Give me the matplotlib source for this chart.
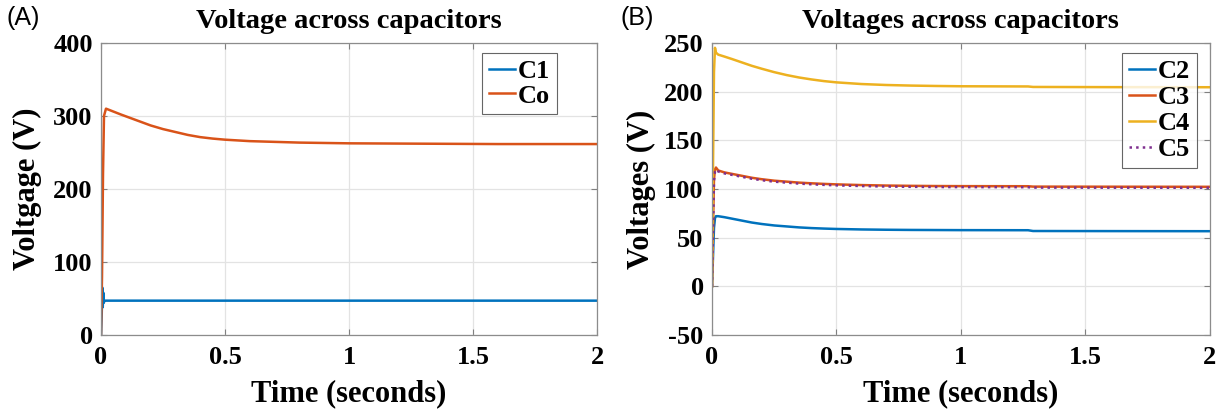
import numpy as np
import matplotlib.pyplot as plt

plt.rcParams["axes.unicode_minus"] = False

# panel A
t_c1 = [0, 0.003, 0.005, 0.007, 0.009, 0.011, 0.014, 0.02, 0.5, 1.0, 1.5, 2.0]
c1 = [0, 30, 65, 38, 58, 44, 47, 47, 47, 47, 47, 47]

t_co = [0, 0.004, 0.008, 0.012, 0.02, 0.05, 0.08, 0.12, 0.16, 0.2, 0.25, 0.3, 0.35, 0.4,
        0.45, 0.5, 0.6, 0.7, 0.8, 0.9, 1.0, 1.3, 1.6, 2.0]
co = [0, 80, 220, 300, 310, 306, 302, 297, 292, 287, 282, 278, 274, 271,
      269, 267.5, 265.5, 264.5, 263.5, 263, 262.5, 262, 261.5, 261.5]

# panel B
t_b = [0, 0.004, 0.008, 0.012, 0.016, 0.025, 0.05, 0.08, 0.12, 0.16, 0.2, 0.25, 0.3,
       0.35, 0.4, 0.45, 0.5, 0.6, 0.7, 0.8, 0.9, 1.0, 1.27, 1.29, 1.6, 2.0]
c2 = [0, 30, 60, 70, 72, 72, 71, 69.5, 67.5, 65.5, 64, 62.5, 61.5,
      60.5, 59.8, 59.3, 58.9, 58.4, 58.1, 57.9, 57.8, 57.7, 57.6, 56.8, 56.7, 56.6]
c3 = [0, 60, 110, 120, 122, 119, 117, 115.5, 113.5, 111.5, 110, 108.5, 107.5,
      106.5, 105.8, 105.2, 104.7, 104, 103.5, 103.2, 103, 102.9, 102.8, 102.4, 102.3, 102.2]
c4 = [0, 120, 220, 245, 240, 238, 236, 233.5, 230, 226.5, 223.5, 220, 217,
      214.5, 212.5, 210.8, 209.5, 207.8, 206.8, 206.2, 205.8, 205.5, 205.3, 204.8, 204.6, 204.5]
c5 = [0, 58, 108, 118, 120, 118, 116, 114.5, 112.5, 110.5, 109, 107.5, 106.5,
      105.5, 104.8, 104.2, 103.7, 103, 102.5, 102.2, 102, 101.9, 101.8, 101.4, 101.3, 101.2]

blue, red, yellow, purple = "#0072BD", "#D95319", "#EDB120", "#7E2F8E"
serif = "Liberation Serif"

fig = plt.figure(figsize=(12.2, 4.09), dpi=100)
ax1 = fig.add_axes([0.0828, 0.181, 0.4066, 0.714])
ax2 = fig.add_axes([0.5836, 0.181, 0.408, 0.714])


def style(ax):
    ax.set_xlim(0, 2)
    ax.set_xticks([0, 0.5, 1, 1.5, 2])
    ax.set_xticklabels(["0", "0.5", "1", "1.5", "2"])
    ax.grid(True, color="#e3e3e3", lw=0.9)
    ax.set_axisbelow(True)
    ax.tick_params(direction="in", top=True, right=True, length=4, width=0.8,
                   color="#808080", labelsize=19)
    ax.tick_params(axis="y", pad=6)
    ax.tick_params(axis="x", pad=8)
    for lab in ax.get_xticklabels() + ax.get_yticklabels():
        lab.set_fontfamily(serif)
        lab.set_fontweight("bold")
    for s in ax.spines.values():
        s.set_color("#8c8c8c")
        s.set_linewidth(0.9)
    ax.set_xlabel("Time (seconds)", fontsize=22, fontweight="bold", family=serif, labelpad=7)


def leg(ax, anchor, spacing):
    lg = ax.legend(loc="upper right", bbox_to_anchor=anchor, handlelength=1.0,
                   handletextpad=0.1, borderpad=0.25, labelspacing=spacing,
                   borderaxespad=0, fancybox=False,
                   prop={"family": serif, "weight": "bold", "size": 19})
    lg.get_frame().set_edgecolor("#404040")
    lg.get_frame().set_linewidth(0.8)
    return lg


ax1.plot(t_c1, c1, color=blue, lw=1.8, label="C1")
ax1.plot(t_co, co, color=red, lw=1.8, label="Co")
ax1.set_ylim(0, 400)
ax1.set_yticks([0, 100, 200, 300, 400])
style(ax1)
ax1.set_ylabel("Voltgage (V)", fontsize=22, fontweight="bold", family=serif, labelpad=8)
ax1.set_title("Voltage across capacitors", fontsize=20.5, fontweight="bold", family=serif, pad=11)
leg(ax1, (0.919, 0.966), 0.05)

ax2.plot(t_b, c2, color=blue, lw=1.8, label="C2")
ax2.plot(t_b, c3, color=red, lw=1.8, label="C3")
ax2.plot(t_b, c4, color=yellow, lw=1.8, label="C4")
ax2.plot(t_b, c5, color=purple, lw=1.8, ls=":", label="C5")
ax2.set_ylim(-50, 250)
ax2.set_yticks([-50, 0, 50, 100, 150, 200, 250])
style(ax2)
ax2.set_ylabel("Voltages (V)", fontsize=22, fontweight="bold", family=serif, labelpad=6)
ax2.set_title("Voltages across capacitors", fontsize=20.5, fontweight="bold", family=serif, pad=11)
leg(ax2, (0.974, 0.966), 0.1)

fig.text(0.005, 0.985, "(A)", fontsize=18, family="Liberation Sans", va="top")
fig.text(0.509, 0.985, "(B)", fontsize=18, family="Liberation Sans", va="top")

fig.savefig("out.png", dpi=100)
